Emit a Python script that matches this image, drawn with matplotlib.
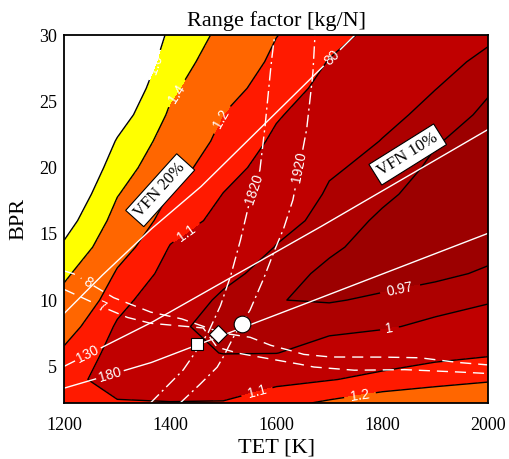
import numpy as np
import matplotlib
matplotlib.use("Agg")
import matplotlib.pyplot as plt

# Range factor [kg/N] on a TET x BPR grid
tet = [1200, 1300, 1400, 1500, 1600, 1700, 1800, 1900, 2000]
bpr = [2.2, 4, 6, 8, 10, 12, 14, 16, 18, 20, 22, 24, 26, 28, 30]
# one list per TET column, BPR from bottom to top
rf_cols = [
    [1.150, 1.120, 1.180, 1.251, 1.336, 1.433, 1.567, 1.690, 1.800, 1.900, 2.000, 2.100, 2.200, 2.300, 2.400],
    [1.105, 1.075, 1.065, 1.088, 1.132, 1.185, 1.255, 1.331, 1.409, 1.496, 1.583, 1.700, 1.800, 1.900, 2.000],
    [1.103, 1.060, 1.022, 1.008, 1.030, 1.065, 1.095, 1.142, 1.193, 1.252, 1.312, 1.373, 1.434, 1.495, 1.555],
    [1.105, 1.057, 0.998, 0.987, 0.992, 1.012, 1.045, 1.075, 1.098, 1.132, 1.165, 1.199, 1.249, 1.299, 1.350],
    [1.170, 1.070, 0.999, 0.982, 0.9705, 0.983, 0.998, 1.018, 1.040, 1.062, 1.084, 1.108, 1.140, 1.172, 1.203],
    [1.218, 1.095, 1.024, 0.987, 0.968, 0.963, 0.975, 0.985, 0.994, 1.006, 1.031, 1.053, 1.074, 1.096, 1.125],
    [1.270, 1.126, 1.045, 0.994, 0.974, 0.960, 0.958, 0.965, 0.9755, 0.987, 0.998, 1.015, 1.035, 1.055, 1.075],
    [1.290, 1.161, 1.068, 1.011, 0.981, 0.965, 0.955, 0.953, 0.958, 0.964, 0.972, 0.985, 1.001, 1.016, 1.035],
    [1.300, 1.188, 1.086, 1.035, 0.994, 0.973, 0.963, 0.955, 0.952, 0.954, 0.958, 0.964, 0.973, 0.989, 1.008],
]
rf_levels = [0.97, 1.0, 1.1, 1.2, 1.4, 1.6]
rf_labels = {0.97: "0.97", 1.0: "1", 1.1: "1.1", 1.2: "1.2", 1.4: "1.4", 1.6: "1.6"}
band_colors = ["#9c0000", "#ad0000", "#c00000", "#ff1a00", "#ff6600", "#ffff00", "#ffffff"]

# white solid lines (80 / 130 / 180)
line80_t = [1200, 1267, 1362, 1456, 1588, 1748]
line80_b = [9.0, 11.7, 15.3, 18.5, 23.7, 30.0]
line130_t = [1200, 1362, 1669, 2000]
line130_b = [5.0, 8.25, 15.2, 22.9]
line180_t = [1200, 1362, 1588, 2000]
line180_b = [3.35, 5.25, 8.7, 15.05]

# white dashed lines (8 / 7)
dash8_t = [1200, 1217, 1292, 1362, 1420, 1470, 1500, 1550, 1588, 1626, 1651, 1701, 1788, 1869, 1939, 2000]
dash8_b = [12.2, 12.0, 10.2, 9.1, 8.6, 7.9, 7.5, 7.2, 6.6, 6.2, 5.9, 5.7, 5.7, 5.65, 5.3, 5.1]
dash7_t = [1200, 1271, 1318, 1362, 1462, 1488, 1526, 1588, 1639, 1669, 1745, 1839, 1928, 2000]
dash7_b = [10.8, 9.5, 8.7, 8.25, 7.9, 6.45, 6.0, 5.55, 5.2, 4.95, 4.7, 4.75, 4.6, 4.45]

# white dash-dot lines (1820 / 1920)
dd1820_t = [1362, 1424, 1450, 1471, 1494, 1513, 1531, 1550, 1569, 1578, 1584, 1591, 1597]
dd1820_b = [2.2, 4.7, 6.2, 7.5, 9.5, 11.7, 14.3, 17.5, 19.8, 22.8, 25.3, 28.1, 30.0]
dd1920_t = [1418, 1450, 1488, 1500, 1519, 1550, 1575, 1594, 1613, 1631, 1657, 1663, 1669, 1673]
dd1920_b = [2.2, 3.4, 4.9, 5.7, 7.2, 9.2, 11.5, 13.5, 15.3, 17.5, 22.8, 24.9, 27.1, 30.0]

# design points
pts_t = [1450, 1490, 1535]
pts_b = [6.7, 7.4, 8.2]
pts_marker = ["s", "D", "o"]
pts_size = [9, 9, 12]

serif = "Liberation Serif"
sans = "Liberation Sans"

fig = plt.figure(figsize=(5.09, 4.59), dpi=100)
ax = fig.add_axes([0.1263, 0.1213, 0.833, 0.8017])
ax.set_xlim(1200, 2000)
ax.set_ylim(2.2, 30)

T, B = np.meshgrid(tet, bpr)
Z = np.array(rf_cols).T
ax.contourf(T, B, Z, levels=[0.9] + rf_levels + [3.0], colors=band_colors)
cs = ax.contour(T, B, Z, levels=rf_levels, colors="black", linewidths=1.0)
ax.clabel(cs, fmt=rf_labels, inline=True, fontsize=10, colors="white",
          manual=[(1362, 27.9), (1409, 25.7), (1494, 23.7), (1434, 14.9),
                  (1815, 7.5), (1834, 10.75), (1564, 3.0), (1758, 2.8)])
for t in cs.labelTexts:
    t.set_family(sans)


def labelled_line(xs, ys, ls, label, at, gap=24):
    pts = ax.transData.transform(np.column_stack([xs, ys]))
    s = np.concatenate([[0], np.cumsum(np.hypot(*np.diff(pts, axis=0).T))])
    fine = np.linspace(0, s[-1], 3000)
    fx = np.interp(fine, s, pts[:, 0])
    fy = np.interp(fine, s, pts[:, 1])
    p = ax.transData.transform(at)
    k = np.argmin(np.hypot(fx - p[0], fy - p[1]))
    s0 = fine[k]
    inv = ax.transData.inverted()
    for keep in (fine < s0 - gap / 2, fine > s0 + gap / 2):
        if keep.sum() > 1:
            d = inv.transform(np.column_stack([fx[keep], fy[keep]]))
            ax.plot(d[:, 0], d[:, 1], color="white", lw=1.0, ls=ls)
    i0, i1 = max(k - 10, 0), min(k + 10, len(fine) - 1)
    ang = np.degrees(np.arctan2(fy[i1] - fy[i0], fx[i1] - fx[i0]))
    if ang > 90:
        ang -= 180
    if ang < -90:
        ang += 180
    c = inv.transform([[fx[k], fy[k]]])[0]
    ax.text(c[0], c[1], label, color="white", fontsize=10, family=sans,
            rotation=ang, rotation_mode="anchor", ha="center", va="center")


dashed = (0, (8, 5))
dashdot = (0, (9, 3, 1.5, 3))
labelled_line(line80_t, line80_b, "-", "80", (1705, 28.3))
labelled_line(line130_t, line130_b, "-", "130", (1245, 5.85), gap=30)
labelled_line(line180_t, line180_b, "-", "180", (1286, 4.4), gap=30)
labelled_line(dash8_t, dash8_b, dashed, "8", (1243, 11.3), gap=14)
labelled_line(dash7_t, dash7_b, dashed, "7", (1271, 9.5), gap=14)
labelled_line(dd1820_t, dd1820_b, dashdot, "1820", (1565, 18.3), gap=36)
labelled_line(dd1920_t, dd1920_b, dashdot, "1920", (1645, 20.0), gap=36)

for t, b, m, sz in zip(pts_t, pts_b, pts_marker, pts_size):
    ax.plot(t, b, marker=m, ms=sz, mfc="white", mec="black", mew=0.8, ls="none", zorder=5)

box = dict(boxstyle="square,pad=0.25", fc="white", ec="black", lw=0.8)
ax.text(1381, 18.3, "VFN 20%", family=serif, fontsize=12, rotation=48,
        ha="center", va="center", bbox=box, zorder=6)
ax.text(1848, 21.0, "VFN 10%", family=serif, fontsize=12, rotation=32,
        ha="center", va="center", bbox=box, zorder=6)

ax.set_title("Range factor [kg/N]", family=serif, fontsize=16, pad=7)
ax.set_xlabel("TET [K]", family=serif, fontsize=16, labelpad=3)
ax.set_ylabel("BPR", family=serif, fontsize=16, labelpad=8)
ax.set_xticks([1200, 1400, 1600, 1800, 2000])
ax.set_yticks([5, 10, 15, 20, 25, 30])
ax.tick_params(direction="in", length=0, labelsize=13, pad=10)
ax.tick_params(axis="y", pad=5)
for lab in ax.get_xticklabels() + ax.get_yticklabels():
    lab.set_family(serif)
for sp in ax.spines.values():
    sp.set_linewidth(1.3)

fig.savefig("out.png", dpi=100)
